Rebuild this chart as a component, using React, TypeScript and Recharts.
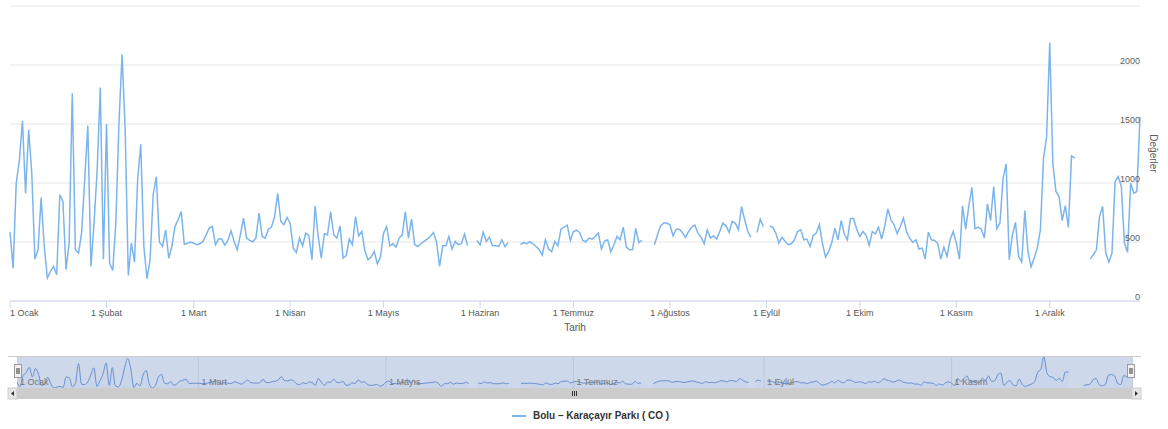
import React from "react";
import {
  LineChart,
  Line,
  AreaChart,
  Area,
  XAxis,
  YAxis,
  CartesianGrid,
  ReferenceArea,
  Label,
} from "recharts";

// month names and the day index where each month starts
const months = ["Ocak", "Şubat", "Mart", "Nisan", "Mayıs", "Haziran", "Temmuz", "Ağustos", "Eylül", "Ekim", "Kasım", "Aralık"];
const monthStarts = [0, 31, 59, 90, 120, 151, 181, 212, 243, 273, 304, 334];
const navTicks = [0, 59, 120, 181, 243, 304];
const yTicks = [0, 500, 1000, 1500, 2000, 2500];

// daily CO values, one array per month (null = no measurement)
const jan = [584, 279, 998, 1190, 1528, 914, 1450, 1083, 355, 434, 877, 462, 195, 251, 293, 223, 900, 843, 265, 491, 1760, 434, 406, 575, 1030, 1486, 293, 660, 1111, 1810, 355];
const feb = [1500, 321, 259, 660, 1505, 2090, 1450, 217, 491, 330, 1026, 1328, 462, 189, 350, 900, 1054, 499, 462, 603, 361, 462, 632, 688, 758, 480, 490, 500];
const mar = [490, 477, 485, 505, 560, 618, 632, 477, 525, 525, 474, 513, 595, 505, 434, 560, 702, 533, 513, 502, 533, 744, 547, 533, 609, 626, 716, 913, 674, 646, 708];
const apr = [660, 448, 412, 533, 468, 575, 553, 350, 807, 547, 364, 570, 561, 758, 561, 533, 637, 364, 384, 525, 477, 716, 553, 589, 426, 350, 372, 420, 316, 372];
const may = [575, 632, 468, 485, 457, 533, 561, 758, 533, 694, 477, 462, 485, 505, 525, 547, 581, 505, 293, 468, 468, 547, 440, 505, 477, 485, 567, 468, null, null, 513];
const jun = [477, 584, 505, 539, 468, 468, 462, 519, 462, 496, null, null, null, 477, 496, 485, 502, 485, 462, 434, 389, 519, 440, 417, 505, 468, 609, 626, 643, 513];
const jul = [589, 600, 581, 513, 502, 533, 525, 547, 575, 440, 508, 519, 417, 477, 547, 519, 626, 457, 434, 434, 615, 496, 513, null, null, null, 477, 561, 637, 660, 660];
const aug = [646, 553, 609, 609, 581, 539, 589, 626, 643, 575, 541, 485, 603, 533, 553, 525, 589, 660, 637, 581, 674, 660, 603, 801, 688, 589, 541, null, 581, 694, 632];
const sep = [null, 637, 626, 575, 491, 541, 505, 477, 485, 519, 589, 603, 519, 525, 462, 553, 575, 646, 485, 372, 420, 496, 618, 519, 682, 570, 519, 699, 699, 609];
const oct = [547, 589, 558, 471, 589, 570, 626, 525, 632, 781, 688, 646, 570, 632, 702, 589, 533, 496, 519, 440, 448, 355, 584, 519, 513, 491, 355, 457, 378, 519, 589];
const nov = [491, 355, 807, 609, 801, 964, 612, 626, 609, 533, 823, 682, 970, 612, 660, 1035, 1162, 350, 561, 666, 378, 330, 767, 420, 288, 364, 448, 603, 1210, 1393];
const dec = [2188, 1167, 928, 885, 682, 807, 623, 1229, 1210, null, null, null, null, 355, 392, 434, 716, 801, 406, 330, 406, 1012, 1054, 970, 491, 412, 998, 914, 928, 1562];

const values = [...jan, ...feb, ...mar, ...apr, ...may, ...jun, ...jul, ...aug, ...sep, ...oct, ...nov, ...dec];
const data = values.map((v, i) => ({ day: i, value: v }));
const lastDay = values.length - 1;

const FONT = "'Liberation Sans', Arial, sans-serif";
const monthLabel = (d: number) => `1 ${months[monthStarts.indexOf(d)]}`;

const XTick = (props: any) => {
  const { x, y, payload, index } = props;
  return (
    <text x={x} y={y} dy="0.71em" textAnchor={index === 0 ? "start" : "middle"} fill="#555" fontSize={9} fontFamily={FONT}>
      {monthLabel(payload.value)}
    </text>
  );
};

const YTick = (props: any) => {
  const { x, y, payload } = props;
  // the top gridline carries no label
  if (payload.value === 2500) return null;
  return (
    <text x={x} y={y - 1} textAnchor="end" fill="#606060" fontSize={9} fontFamily={FONT}>
      {payload.value}
    </text>
  );
};

const NavTick = (props: any) => {
  const { x, payload } = props;
  return (
    <text x={x + 3} y={28} textAnchor="start" fill="#777" fontSize={9} fontFamily={FONT}>
      {monthLabel(payload.value)}
    </text>
  );
};

export default function App() {
  return (
    <div style={{ position: "absolute", left: 0, top: 0, width: 1168, height: 429, background: "#fff", fontFamily: FONT }}>
      <LineChart width={1168} height={340} data={data} margin={{ top: 6, right: 0, left: 10, bottom: 0 }}>
        <CartesianGrid vertical={false} stroke="#e6e6e6" />
        <XAxis
          dataKey="day"
          type="number"
          domain={[0, lastDay]}
          ticks={monthStarts}
          interval={0}
          height={39}
          stroke="#ccd6eb"
          tickSize={7}
          tickMargin={2}
          tick={<XTick />}
        >
          <Label value="Tarih" position="insideBottom" offset={9} fill="#555" fontSize={10} fontFamily={FONT} />
        </XAxis>
        <YAxis
          orientation="right"
          domain={[0, 2500]}
          ticks={yTicks}
          width={28}
          axisLine={false}
          tickLine={false}
          tickSize={0}
          tickMargin={0}
          tick={<YTick />}
        >
          <Label value="Değerler" angle={90} position="center" fill="#606060" fontSize={10} fontFamily={FONT} />
        </YAxis>
        <Line dataKey="value" type="linear" stroke="#7cb5ec" strokeWidth={1.5} dot={false} isAnimationActive={false} />
      </LineChart>

      {/* navigator */}
      <div style={{ position: "absolute", left: 8, top: 356, width: 1133, height: 1, background: "#cccccc" }} />
      <div style={{ position: "absolute", left: 17, top: 357 }}>
        <AreaChart width={1116} height={32} data={data} margin={{ top: 0, right: 0, left: 0, bottom: 0 }}>
          <CartesianGrid horizontal={false} stroke="#e6e6e6" />
          <XAxis
            dataKey="day"
            type="number"
            domain={[0, lastDay]}
            ticks={navTicks}
            interval={0}
            height={1}
            axisLine={false}
            tickLine={false}
            tickSize={0}
            tickMargin={0}
            tick={<NavTick />}
          />
          <YAxis hide domain={["dataMin", "dataMax"]} />
          <Area dataKey="value" type="monotone" stroke="#6a93d6" strokeWidth={1} fill="#7cb5ec" fillOpacity={0.05} dot={false} isAnimationActive={false} />
          <ReferenceArea x1={0} x2={lastDay} fill="#6685c2" fillOpacity={0.32} stroke="none" ifOverflow="visible" />
        </AreaChart>
      </div>

      {/* handles and scrollbar */}
      <svg width={1168} height={60} style={{ position: "absolute", left: 0, top: 355 }}>
        <g>
          <rect x={14.5} y={9.5} width={7} height={13} fill="#f2f2f2" stroke="#999" />
          <line x1={17} y1={13} x2={17} y2={19} stroke="#333" />
          <line x1={19} y1={13} x2={19} y2={19} stroke="#333" />
          <rect x={1127.5} y={9.5} width={7} height={13} fill="#f2f2f2" stroke="#999" />
          <line x1={1130} y1={13} x2={1130} y2={19} stroke="#333" />
          <line x1={1132} y1={13} x2={1132} y2={19} stroke="#333" />
        </g>
        <rect x={8} y={33} width={1133} height={11} fill="#f2f2f2" />
        <rect x={17} y={33} width={1115} height={11} fill="#cccccc" />
        <rect x={8} y={33} width={9} height={11} fill="#e6e6e6" stroke="#cccccc" />
        <path d="M 14 36 L 14 41 L 11 38.5 Z" fill="#333" />
        <rect x={1132} y={33} width={9} height={11} fill="#e6e6e6" stroke="#cccccc" />
        <path d="M 1135 36 L 1135 41 L 1138 38.5 Z" fill="#333" />
        <line x1={572.5} y1={36} x2={572.5} y2={41} stroke="#333" />
        <line x1={574.5} y1={36} x2={574.5} y2={41} stroke="#333" />
        <line x1={576.5} y1={36} x2={576.5} y2={41} stroke="#333" />
      </svg>

      {/* legend */}
      <div style={{ position: "absolute", left: 512, top: 415, width: 14, height: 2, background: "#7cb5ec" }} />
      <div style={{ position: "absolute", left: 533, top: 409, fontSize: 10, fontWeight: "bold", color: "#333", whiteSpace: "nowrap", lineHeight: "14px" }}>
        Bolu – Karaçayır Parkı ( CO )
      </div>
    </div>
  );
}
